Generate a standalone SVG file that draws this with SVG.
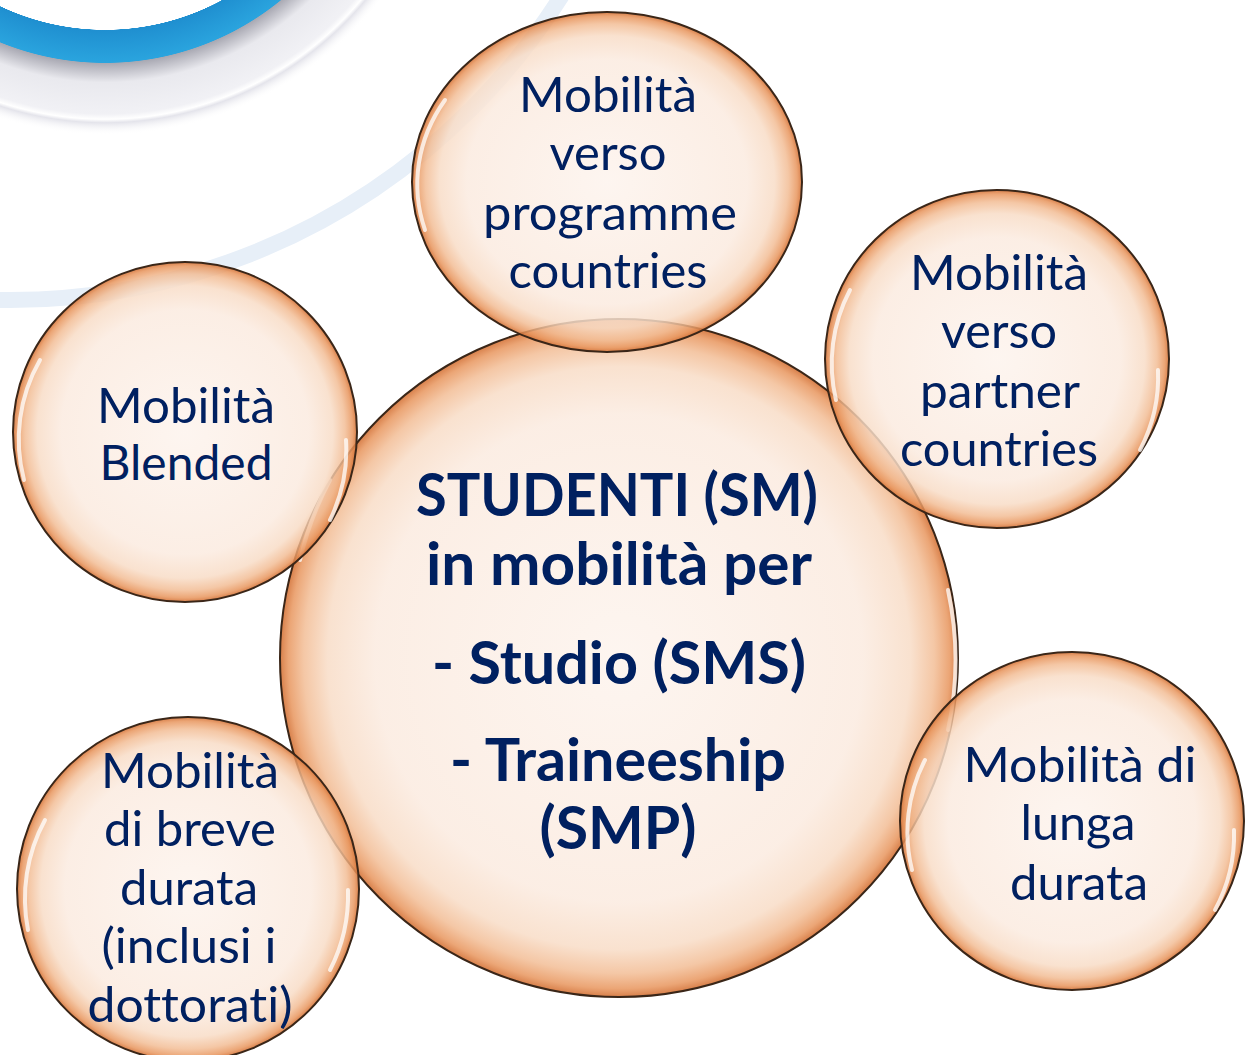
<svg xmlns="http://www.w3.org/2000/svg" width="1248" height="1055" viewBox="0 0 1248 1055">
<style>
.bub{fill:url(#bubFill);stroke:#3a2618;stroke-width:2}
.hl{fill:none;stroke:#ffffff;stroke-width:4;stroke-opacity:0.75;stroke-linecap:round}
.t{font-family:Lato,"Open Sans","Liberation Sans",sans-serif;font-size:48px;fill:#002060;text-anchor:middle;font-variant-ligatures:none;font-feature-settings:"liga" 0,"clig" 0}
.tb{font-family:Lato,"Open Sans","Liberation Sans",sans-serif;font-size:60px;font-weight:bold;fill:#002060;text-anchor:middle;font-variant-ligatures:none;font-feature-settings:"liga" 0,"clig" 0}
</style>
<defs>
<radialGradient id="bubFill" cx="0.5" cy="0.5" r="0.5">
<stop offset="0" stop-color="#fdf4ee" stop-opacity="0.88"/>
<stop offset="0.72" stop-color="#fbebe0" stop-opacity="0.86"/>
<stop offset="0.86" stop-color="#f8dcc6" stop-opacity="0.84"/>
<stop offset="0.93" stop-color="#f2bb92" stop-opacity="0.82"/>
<stop offset="0.975" stop-color="#e8965e" stop-opacity="0.85"/>
<stop offset="1" stop-color="#d4743a" stop-opacity="0.92"/>
</radialGradient>
<radialGradient id="deco" gradientUnits="userSpaceOnUse" cx="105" cy="-215" r="350">
<stop offset="0" stop-color="#ffffff"/>
<stop offset="0.699" stop-color="#ffffff"/>
<stop offset="0.70" stop-color="#1f8fd0"/>
<stop offset="0.793" stop-color="#2aa4de"/>
<stop offset="0.795" stop-color="#a9a9b3"/>
<stop offset="0.85" stop-color="#e9e9ee"/>
<stop offset="0.94" stop-color="#f1f1f5"/>
<stop offset="0.955" stop-color="#ffffff"/>
<stop offset="0.965" stop-color="#e4e4eb"/>
<stop offset="1" stop-color="#ffffff" stop-opacity="0"/>
</radialGradient>
</defs>
<rect width="1248" height="1055" fill="#ffffff"/>
<g id="background">
<circle cx="10" cy="-352" r="652" fill="none" stroke="#e7eff8" stroke-width="16"/>
<circle cx="105" cy="-215" r="350" fill="url(#deco)"/>
</g>
<g id="connectors"></g>
<g id="node-center">
<circle class="bub" cx="619" cy="658" r="339"/>
<path class="hl" d="M 948 590 A 331 331 0 0 1 948 730"/>
<path class="hl" d="M 300 560 A 331 331 0 0 1 330 480"/>
</g>
<g id="node-top">
<ellipse class="bub" cx="607" cy="182" rx="195" ry="170"/>
<path class="hl" d="M 425 230 A 185 160 0 0 1 445 100"/>
</g>
<g id="node-left">
<ellipse class="bub" cx="185" cy="432" rx="172" ry="170"/>
<path class="hl" d="M 24 480 A 163 161 0 0 1 40 360"/>
<path class="hl" d="M 346 440 A 163 161 0 0 1 330 520"/>
</g>
<g id="node-right">
<ellipse class="bub" cx="997" cy="359" rx="172" ry="169"/>
<path class="hl" d="M 836 400 A 163 160 0 0 1 850 290"/>
<path class="hl" d="M 1158 370 A 163 160 0 0 1 1140 450"/>
</g>
<g id="node-bottom-left">
<ellipse class="bub" cx="188" cy="889" rx="171" ry="172"/>
<path class="hl" d="M 28 930 A 162 163 0 0 1 45 820"/>
<path class="hl" d="M 348 890 A 162 163 0 0 1 330 970"/>
</g>
<g id="node-bottom-right">
<ellipse class="bub" cx="1072" cy="821" rx="172" ry="169"/>
<path class="hl" d="M 912 870 A 163 160 0 0 1 925 760"/>
<path class="hl" d="M 1234 830 A 163 160 0 0 1 1215 910"/>
</g>
<g id="labels">
<text class="t" x="608" y="112" textLength="178" lengthAdjust="spacingAndGlyphs">Mobilità</text>
<text class="t" x="608" y="170" textLength="117" lengthAdjust="spacingAndGlyphs">verso</text>
<text class="t" x="610" y="230" textLength="254" lengthAdjust="spacingAndGlyphs">programme</text>
<text class="t" x="608" y="288" textLength="199" lengthAdjust="spacingAndGlyphs">countries</text>

<text class="t" x="186" y="423" textLength="178" lengthAdjust="spacingAndGlyphs">Mobilità</text>
<text class="t" x="186" y="480" textLength="173" lengthAdjust="spacingAndGlyphs">Blended</text>

<text class="t" x="999" y="290" textLength="178" lengthAdjust="spacingAndGlyphs">Mobilità</text>
<text class="t" x="999" y="348" textLength="116" lengthAdjust="spacingAndGlyphs">verso</text>
<text class="t" x="1000" y="408" textLength="160" lengthAdjust="spacingAndGlyphs">partner</text>
<text class="t" x="999" y="466" textLength="198" lengthAdjust="spacingAndGlyphs">countries</text>

<text class="t" x="190" y="788" textLength="178" lengthAdjust="spacingAndGlyphs">Mobilità</text>
<text class="t" x="190" y="846" textLength="172" lengthAdjust="spacingAndGlyphs">di breve</text>
<text class="t" x="189" y="905" textLength="138" lengthAdjust="spacingAndGlyphs">durata</text>
<text class="t" x="189" y="963" textLength="175" lengthAdjust="spacingAndGlyphs">(inclusi i</text>
<text class="t" x="190" y="1022" textLength="205" lengthAdjust="spacingAndGlyphs">dottorati)</text>

<text class="t" x="1080" y="782" textLength="233" lengthAdjust="spacingAndGlyphs">Mobilità di</text>
<text class="t" x="1078" y="840" textLength="115" lengthAdjust="spacingAndGlyphs">lunga</text>
<text class="t" x="1079" y="900" textLength="138" lengthAdjust="spacingAndGlyphs">durata</text>

<text class="tb" x="617" y="516" textLength="402" lengthAdjust="spacingAndGlyphs">STUDENTI (SM)</text>
<text class="tb" x="619" y="585" textLength="386" lengthAdjust="spacingAndGlyphs">in mobilità per</text>
<text class="tb" x="619" y="684" textLength="374" lengthAdjust="spacingAndGlyphs">- Studio (SMS)</text>
<text class="tb" x="618" y="781" textLength="336" lengthAdjust="spacingAndGlyphs">- Traineeship</text>
<text class="tb" x="618" y="849" textLength="157" lengthAdjust="spacingAndGlyphs">(SMP)</text>
</g>
</svg>
